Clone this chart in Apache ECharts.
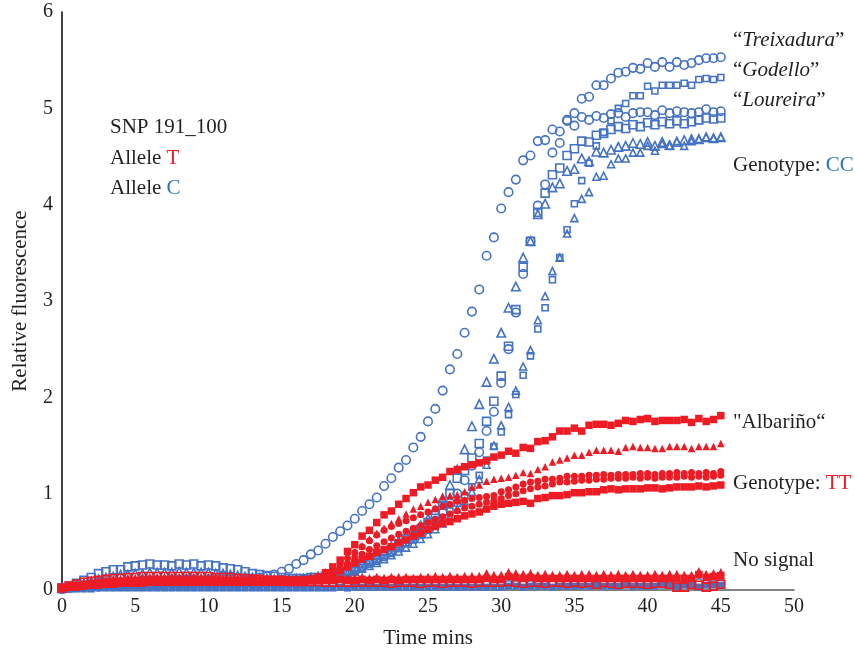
<!DOCTYPE html>
<html>
<head>
<meta charset="utf-8">
<script src="https://cdn.jsdelivr.net/npm/echarts@6/dist/echarts.min.js"></script>
<style>
  html, body { margin: 0; padding: 0; background: #fff; }
  #chart { width: 855px; height: 654px; }
</style>
</head>
<body>
<div id="chart"></div>
<script>
// time points (mins)
const times = [
  0,0.5,1,1.5,2,2.5,3,3.5,4,4.5,
  5,5.5,6,6.5,7,7.5,8,8.5,9,9.5,
  10,10.5,11,11.5,12,12.5,13,13.5,14,14.5,
  15,15.5,16,16.5,17,17.5,18,18.5,19,19.5,
  20,20.5,21,21.5,22,22.5,23,23.5,24,24.5,
  25,25.5,26,26.5,27,27.5,28,28.5,29,29.5,
  30,30.5,31,31.5,32,32.5,33,33.5,34,34.5,
  35,35.5,36,36.5,37,37.5,38,38.5,39,39.5,
  40,40.5,41,41.5,42,42.5,43,43.5,44,44.5,
  45
];

// Genotype CC (blue, hollow markers)
const treixaduraCircle = [
  0.02,0.03,0.04,0.05,0.06,0.06,0.07,0.08,0.08,0.09,
  0.09,0.10,0.10,0.10,0.10,0.11,0.10,0.11,0.11,0.10,
  0.11,0.11,0.11,0.11,0.12,0.12,0.12,0.13,0.14,0.16,
  0.19,0.22,0.27,0.31,0.37,0.41,0.48,0.55,0.61,0.67,
  0.74,0.82,0.89,0.96,1.08,1.16,1.27,1.35,1.48,1.59,
  1.75,1.88,2.07,2.29,2.45,2.67,2.89,3.12,3.47,3.66,
  3.96,4.13,4.26,4.46,4.51,4.66,4.67,4.78,4.76,4.88,
  4.95,5.10,5.12,5.24,5.24,5.31,5.37,5.38,5.42,5.41,
  5.47,5.43,5.48,5.43,5.48,5.45,5.47,5.50,5.52,5.52,
  5.53
];
const loureiraCircle = [
  0.01,0.02,0.03,0.03,0.04,0.04,0.05,0.05,0.05,0.06,
  0.06,0.06,0.06,0.07,0.06,0.07,0.07,0.07,0.06,0.07,
  0.07,0.07,0.07,0.08,0.07,0.08,0.08,0.08,0.09,0.09,
  0.09,0.10,0.10,0.11,0.11,0.12,0.12,0.13,0.15,0.17,
  0.20,0.24,0.28,0.31,0.35,0.40,0.46,0.50,0.55,0.60,
  0.66,0.72,0.80,0.90,1.00,1.14,1.29,1.43,1.65,1.85,
  2.15,2.50,2.88,3.28,3.62,3.99,4.21,4.54,4.64,4.87,
  4.82,4.91,4.88,4.92,4.90,4.94,4.95,4.91,4.95,4.96,
  4.96,4.93,4.98,4.95,4.97,4.96,4.95,4.96,4.99,4.96,
  4.97
];
const ccSquareA = [
  0.02,0.04,0.07,0.10,0.13,0.17,0.19,0.21,0.21,0.24,
  0.25,0.26,0.27,0.26,0.26,0.25,0.27,0.26,0.27,0.25,
  0.26,0.25,0.23,0.22,0.21,0.19,0.17,0.16,0.15,0.14,
  0.13,0.12,0.12,0.12,0.13,0.13,0.14,0.15,0.17,0.19,
  0.22,0.26,0.30,0.33,0.37,0.42,0.48,0.53,0.57,0.63,
  0.70,0.78,0.88,1.00,1.16,1.24,1.37,1.52,1.75,1.96,
  2.22,2.53,2.91,3.35,3.62,3.92,4.12,4.31,4.38,4.51,
  4.58,4.66,4.65,4.72,4.74,4.78,4.81,4.79,4.83,4.81,
  4.85,4.83,4.86,4.84,4.87,4.84,4.86,4.88,4.90,4.89,
  4.90
];
const ccTriangleA = [
  0.02,0.03,0.05,0.07,0.09,0.11,0.13,0.14,0.16,0.16,
  0.17,0.17,0.18,0.18,0.18,0.18,0.19,0.18,0.18,0.18,
  0.18,0.17,0.17,0.16,0.15,0.14,0.13,0.12,0.12,0.11,
  0.11,0.11,0.12,0.12,0.13,0.14,0.15,0.17,0.19,0.21,
  0.24,0.28,0.32,0.36,0.40,0.45,0.51,0.56,0.60,0.67,
  0.74,0.83,0.95,1.09,1.25,1.46,1.70,1.93,2.16,2.40,
  2.67,2.93,3.15,3.45,3.62,3.90,4.01,4.18,4.22,4.35,
  4.37,4.48,4.45,4.55,4.54,4.57,4.60,4.61,4.64,4.63,
  4.65,4.61,4.65,4.62,4.65,4.67,4.68,4.68,4.70,4.69,
  4.70
];
const godelloSquare = [
  0.01,0.02,0.02,0.03,0.03,0.04,0.04,0.04,0.05,0.05,
  0.05,0.05,0.06,0.05,0.06,0.06,0.06,0.06,0.06,0.06,
  0.06,0.07,0.06,0.07,0.07,0.07,0.07,0.08,0.08,0.08,
  0.09,0.09,0.10,0.10,0.11,0.12,0.13,0.14,0.16,0.18,
  0.20,0.23,0.27,0.30,0.34,0.38,0.43,0.48,0.52,0.57,
  0.62,0.68,0.75,0.82,0.90,0.98,1.07,1.19,1.35,1.49,
  1.64,1.82,2.03,2.23,2.43,2.71,2.93,3.22,3.45,3.74,
  4.01,4.25,4.43,4.61,4.75,4.87,5.00,5.05,5.13,5.13,
  5.23,5.18,5.24,5.24,5.24,5.26,5.24,5.30,5.31,5.30,
  5.32
];
const ccTriangleB = [
  0.01,0.02,0.03,0.03,0.04,0.04,0.05,0.05,0.05,0.06,
  0.06,0.06,0.06,0.06,0.07,0.07,0.06,0.07,0.07,0.07,
  0.07,0.07,0.07,0.07,0.08,0.08,0.08,0.08,0.09,0.09,
  0.09,0.10,0.10,0.11,0.12,0.12,0.13,0.14,0.15,0.17,
  0.19,0.22,0.25,0.28,0.32,0.36,0.40,0.44,0.48,0.53,
  0.58,0.63,0.69,0.76,0.84,0.92,1.02,1.15,1.30,1.50,
  1.71,1.90,2.07,2.32,2.49,2.80,3.05,3.31,3.45,3.70,
  3.86,4.06,4.13,4.29,4.30,4.42,4.48,4.48,4.54,4.54,
  4.61,4.56,4.63,4.61,4.66,4.61,4.66,4.68,4.70,4.69,
  4.70
];

// Genotype TT (red, filled markers)
const albarinoSquare = [
  0.02,0.03,0.04,0.05,0.06,0.07,0.07,0.08,0.08,0.09,
  0.09,0.09,0.10,0.10,0.10,0.10,0.10,0.10,0.10,0.10,
  0.10,0.10,0.10,0.09,0.09,0.09,0.09,0.09,0.09,0.09,
  0.09,0.09,0.10,0.10,0.11,0.13,0.18,0.24,0.31,0.40,
  0.47,0.56,0.62,0.70,0.78,0.82,0.89,0.95,1.01,1.07,
  1.09,1.14,1.17,1.23,1.25,1.28,1.30,1.32,1.34,1.38,
  1.40,1.44,1.42,1.48,1.47,1.54,1.55,1.59,1.65,1.65,
  1.68,1.65,1.71,1.72,1.72,1.71,1.73,1.76,1.75,1.77,
  1.78,1.75,1.76,1.76,1.76,1.77,1.74,1.78,1.75,1.77,
  1.81
];
const ttTriangle = [
  0.03,0.04,0.05,0.06,0.07,0.08,0.09,0.09,0.10,0.10,
  0.11,0.11,0.11,0.12,0.12,0.12,0.12,0.12,0.12,0.12,
  0.12,0.12,0.12,0.12,0.12,0.11,0.11,0.11,0.11,0.11,
  0.11,0.11,0.12,0.12,0.13,0.15,0.19,0.23,0.27,0.32,
  0.38,0.46,0.53,0.59,0.64,0.69,0.74,0.79,0.84,0.87,
  0.91,0.94,0.97,0.98,0.99,1.02,1.07,1.09,1.13,1.15,
  1.16,1.17,1.19,1.22,1.21,1.25,1.28,1.33,1.35,1.37,
  1.40,1.40,1.43,1.45,1.45,1.45,1.44,1.48,1.49,1.48,
  1.48,1.47,1.47,1.49,1.49,1.49,1.47,1.49,1.49,1.49,
  1.52
];
const ttCircleA = [
  0.02,0.03,0.04,0.05,0.06,0.06,0.07,0.07,0.08,0.08,
  0.08,0.09,0.09,0.09,0.09,0.09,0.09,0.09,0.09,0.09,
  0.09,0.09,0.09,0.09,0.09,0.09,0.09,0.09,0.09,0.09,
  0.09,0.09,0.10,0.11,0.12,0.14,0.17,0.22,0.27,0.33,
  0.39,0.45,0.51,0.57,0.62,0.66,0.69,0.72,0.75,0.78,
  0.81,0.84,0.87,0.89,0.92,0.93,0.95,0.96,0.97,0.98,
  1.02,1.04,1.07,1.10,1.12,1.13,1.15,1.15,1.16,1.18,
  1.18,1.18,1.19,1.19,1.20,1.19,1.20,1.20,1.20,1.21,
  1.21,1.20,1.21,1.21,1.22,1.21,1.22,1.21,1.22,1.21,
  1.23
];
const ttCircleB = [
  0.02,0.03,0.04,0.04,0.05,0.05,0.06,0.06,0.07,0.07,
  0.07,0.08,0.08,0.08,0.08,0.08,0.08,0.08,0.08,0.08,
  0.08,0.08,0.08,0.08,0.08,0.08,0.08,0.08,0.08,0.08,
  0.08,0.09,0.09,0.10,0.11,0.12,0.14,0.18,0.22,0.27,
  0.32,0.37,0.42,0.46,0.50,0.54,0.58,0.61,0.64,0.67,
  0.70,0.73,0.76,0.79,0.82,0.85,0.87,0.89,0.91,0.93,
  0.95,0.98,1.00,1.03,1.05,1.07,1.08,1.10,1.12,1.12,
  1.13,1.14,1.14,1.15,1.15,1.16,1.16,1.16,1.17,1.16,
  1.17,1.16,1.17,1.17,1.17,1.18,1.17,1.18,1.17,1.18,
  1.19
];
const ttSquareLow = [
  0.02,0.03,0.03,0.04,0.05,0.05,0.06,0.06,0.07,0.07,
  0.07,0.07,0.08,0.08,0.08,0.08,0.08,0.08,0.08,0.08,
  0.08,0.08,0.08,0.08,0.08,0.08,0.08,0.08,0.08,0.08,
  0.08,0.08,0.09,0.09,0.10,0.11,0.13,0.16,0.20,0.24,
  0.28,0.32,0.35,0.39,0.42,0.45,0.49,0.52,0.56,0.59,
  0.63,0.66,0.69,0.71,0.74,0.77,0.79,0.81,0.84,0.87,
  0.89,0.90,0.91,0.92,0.90,0.95,0.96,0.98,0.98,0.99,
  1.01,1.01,1.02,1.02,1.04,1.05,1.04,1.05,1.05,1.05,
  1.06,1.06,1.05,1.06,1.07,1.07,1.07,1.08,1.07,1.08,
  1.09
];

// No signal
const noSigBlueSquare = [
  0.00,0.01,0.01,0.01,0.01,0.02,0.02,0.02,0.02,0.02,
  0.02,0.02,0.02,0.02,0.02,0.02,0.02,0.02,0.02,0.02,
  0.02,0.02,0.02,0.02,0.02,0.02,0.02,0.02,0.02,0.02,
  0.02,0.02,0.02,0.02,0.02,0.02,0.02,0.02,0.03,0.02,
  0.03,0.03,0.03,0.03,0.03,0.03,0.03,0.03,0.03,0.03,
  0.03,0.03,0.03,0.03,0.03,0.03,0.03,0.03,0.03,0.03,
  0.03,0.04,0.04,0.03,0.04,0.04,0.04,0.03,0.04,0.04,
  0.04,0.04,0.04,0.05,0.04,0.04,0.04,0.05,0.04,0.04,
  0.04,0.04,0.05,0.05,0.04,0.05,0.05,0.03,0.05,0.05,
  0.05
];
const noSigBlueCircle = [
  0.01,0.02,0.02,0.03,0.03,0.03,0.04,0.04,0.04,0.04,
  0.04,0.04,0.05,0.05,0.05,0.05,0.05,0.05,0.05,0.05,
  0.05,0.05,0.05,0.05,0.05,0.05,0.05,0.05,0.05,0.05,
  0.05,0.05,0.05,0.05,0.05,0.05,0.05,0.05,0.05,0.05,
  0.05,0.05,0.05,0.05,0.05,0.05,0.05,0.06,0.05,0.05,
  0.05,0.06,0.05,0.05,0.06,0.05,0.06,0.05,0.06,0.06,
  0.06,0.06,0.06,0.06,0.06,0.06,0.06,0.06,0.06,0.06,
  0.06,0.06,0.06,0.06,0.07,0.06,0.06,0.07,0.06,0.07,
  0.06,0.07,0.07,0.06,0.07,0.07,0.07,0.08,0.07,0.07,
  0.08
];
const noSigRedTriangle = [
  0.03,0.05,0.06,0.08,0.09,0.10,0.11,0.12,0.12,0.13,
  0.13,0.14,0.14,0.14,0.14,0.14,0.14,0.14,0.14,0.14,
  0.14,0.14,0.13,0.13,0.13,0.13,0.13,0.13,0.12,0.12,
  0.12,0.12,0.12,0.13,0.13,0.13,0.12,0.13,0.13,0.13,
  0.13,0.14,0.13,0.14,0.13,0.14,0.14,0.14,0.13,0.14,
  0.14,0.15,0.14,0.15,0.14,0.15,0.15,0.15,0.18,0.16,
  0.16,0.19,0.18,0.17,0.18,0.16,0.17,0.16,0.16,0.17,
  0.16,0.17,0.17,0.16,0.17,0.16,0.17,0.16,0.17,0.16,
  0.16,0.17,0.16,0.17,0.17,0.16,0.16,0.20,0.17,0.18,
  0.19
];
const noSigRedOpenSquare = [
  0.02,0.04,0.06,0.08,0.09,0.10,0.11,0.12,0.12,0.13,
  0.13,0.14,0.14,0.14,0.14,0.14,0.14,0.14,0.14,0.14,
  0.14,0.13,0.13,0.13,0.12,0.12,0.11,0.11,0.10,0.10,
  0.10,0.09,0.09,0.09,0.09,0.09,0.08,0.08,0.08,0.08,
  0.08,0.08,0.08,0.08,0.08,0.07,0.08,0.08,0.08,0.07,
  0.08,0.08,0.07,0.08,0.08,0.08,0.07,0.08,0.08,0.08,
  0.08,0.09,0.08,0.07,0.08,0.08,0.07,0.08,0.08,0.07,
  0.08,0.07,0.08,0.06,0.08,0.07,0.06,0.07,0.07,0.07,
  0.06,0.07,0.07,0.06,0.03,0.03,0.06,0.05,0.03,0.04,
  0.06
];
const noSigRedSquare = [
  0.02,0.03,0.04,0.05,0.06,0.07,0.08,0.08,0.09,0.09,
  0.09,0.10,0.10,0.10,0.10,0.10,0.10,0.10,0.10,0.10,
  0.10,0.10,0.10,0.10,0.10,0.10,0.10,0.10,0.10,0.10,
  0.10,0.10,0.10,0.10,0.10,0.10,0.10,0.10,0.11,0.10,
  0.10,0.11,0.10,0.11,0.10,0.11,0.10,0.11,0.11,0.11,
  0.11,0.11,0.11,0.11,0.11,0.11,0.11,0.11,0.12,0.11,
  0.11,0.14,0.13,0.12,0.13,0.12,0.12,0.12,0.12,0.12,
  0.12,0.12,0.12,0.12,0.12,0.12,0.12,0.12,0.12,0.12,
  0.12,0.12,0.12,0.12,0.12,0.12,0.12,0.16,0.13,0.14,
  0.15
];

const BLUE = '#4472C4';
const RED = '#ED1C24';
const TEXT = '#231F20';
const FONT = '"Liberation Serif", "DejaVu Serif", serif';

function pts(vals) {
  return vals.map((v, i) => [times[i], v]);
}
function hollow(name, vals, symbol, size) {
  return {
    name, type: 'scatter', data: pts(vals), symbol, symbolSize: size,
    itemStyle: { color: 'rgba(255,255,255,0)', borderColor: BLUE, borderWidth: 1.6, opacity: 1 },
    silent: true
  };
}
function filled(name, vals, symbol, size, color) {
  return {
    name, type: 'scatter', data: pts(vals), symbol, symbolSize: size,
    itemStyle: { color: color, opacity: 1 },
    silent: true
  };
}

const series = [
  filled('noSigBlueSquare', noSigBlueSquare, 'rect', 7, BLUE),
  hollow('noSigBlueCircle', noSigBlueCircle, 'circle', 7),
  hollow('ccTriangleB', ccTriangleB, 'triangle', 7),
  hollow('godelloSquare', godelloSquare, 'rect', 6),
  hollow('ccTriangleA', ccTriangleA, 'triangle', 8.5),
  hollow('ccSquareA', ccSquareA, 'rect', 8),
  hollow('loureiraCircle', loureiraCircle, 'circle', 8.5),
  hollow('treixaduraCircle', treixaduraCircle, 'circle', 8.5),
  filled('ttSquareLow', ttSquareLow, 'rect', 7.5, RED),
  filled('ttCircleB', ttCircleB, 'circle', 7, RED),
  filled('ttCircleA', ttCircleA, 'circle', 7, RED),
  filled('ttTriangle', ttTriangle, 'triangle', 7.5, RED),
  filled('albarinoSquare', albarinoSquare, 'rect', 7.5, RED),
  filled('noSigRedSquare', noSigRedSquare, 'rect', 7.5, RED),
  {
    name: 'noSigRedOpenSquare', type: 'scatter', data: pts(noSigRedOpenSquare),
    symbol: 'rect', symbolSize: 8, silent: true,
    itemStyle: { color: 'rgba(255,255,255,0)', borderColor: RED, borderWidth: 1.6, opacity: 1 }
  },
  filled('noSigRedTriangle', noSigRedTriangle, 'triangle', 7.5, RED)
];

const FS = 21;
function label(x, y, parts) {
  return {
    type: 'text', left: x, top: y - 13, z: 100, silent: true,
    style: { text: parts, rich: richBase, fill: TEXT, font: FS + 'px ' + FONT }
  };
}
const richBase = {
  n: { fill: TEXT, fontSize: FS, fontFamily: FONT, lineHeight: 26 },
  i: { fill: TEXT, fontSize: FS, fontFamily: FONT, fontStyle: 'italic', lineHeight: 26 },
  r: { fill: RED, fontSize: FS, fontFamily: FONT, lineHeight: 26 },
  b: { fill: '#2E75B6', fontSize: FS, fontFamily: FONT, lineHeight: 26 }
};

const chart = echarts.init(document.getElementById('chart'), null, { renderer: 'canvas' });
chart.setOption({
  animation: false,
  backgroundColor: '#fff',
  grid: { left: 62, right: 61, top: 12, bottom: 62, containLabel: false },
  xAxis: {
    type: 'value', min: 0, max: 50, interval: 5,
    name: 'Time mins', nameLocation: 'middle', nameGap: 38,
    nameTextStyle: { fontSize: 21, fontFamily: FONT, color: TEXT },
    axisLine: { show: true, lineStyle: { color: '#595959', width: 1.5 } },
    axisTick: { show: false },
    splitLine: { show: false },
    axisLabel: { fontSize: 20, fontFamily: FONT, color: TEXT, margin: 7 }
  },
  yAxis: {
    type: 'value', min: 0, max: 6, interval: 1,
    name: 'Relative fluorescence', nameLocation: 'middle', nameGap: 31,
    nameTextStyle: { fontSize: 21, fontFamily: FONT, color: TEXT },
    axisLine: { show: true, lineStyle: { color: '#000', width: 1.5 } },
    axisTick: { show: false },
    splitLine: { show: false },
    axisLabel: { fontSize: 20, fontFamily: FONT, color: TEXT, margin: 9 }
  },
  series: series,
  graphic: [
    label(110, 130, '{n|SNP 191_100}'),
    label(110, 161, '{n|Allele }{r|T}'),
    label(110, 191, '{n|Allele }{b|C}'),
    label(733, 43, '{n|“}{i|Treixadura}{n|”}'),
    label(733, 73, '{n|“}{i|Godello}{n|”}'),
    label(733, 103, '{n|“}{i|Loureira}{n|”}'),
    label(733, 168, '{n|Genotype: }{b|CC}'),
    label(733, 425, '{n|"Albariño“}'),
    label(733, 486, '{n|Genotype: }{r|TT}'),
    label(733, 563, '{n|No signal}')
  ]
});
</script>
</body>
</html>
